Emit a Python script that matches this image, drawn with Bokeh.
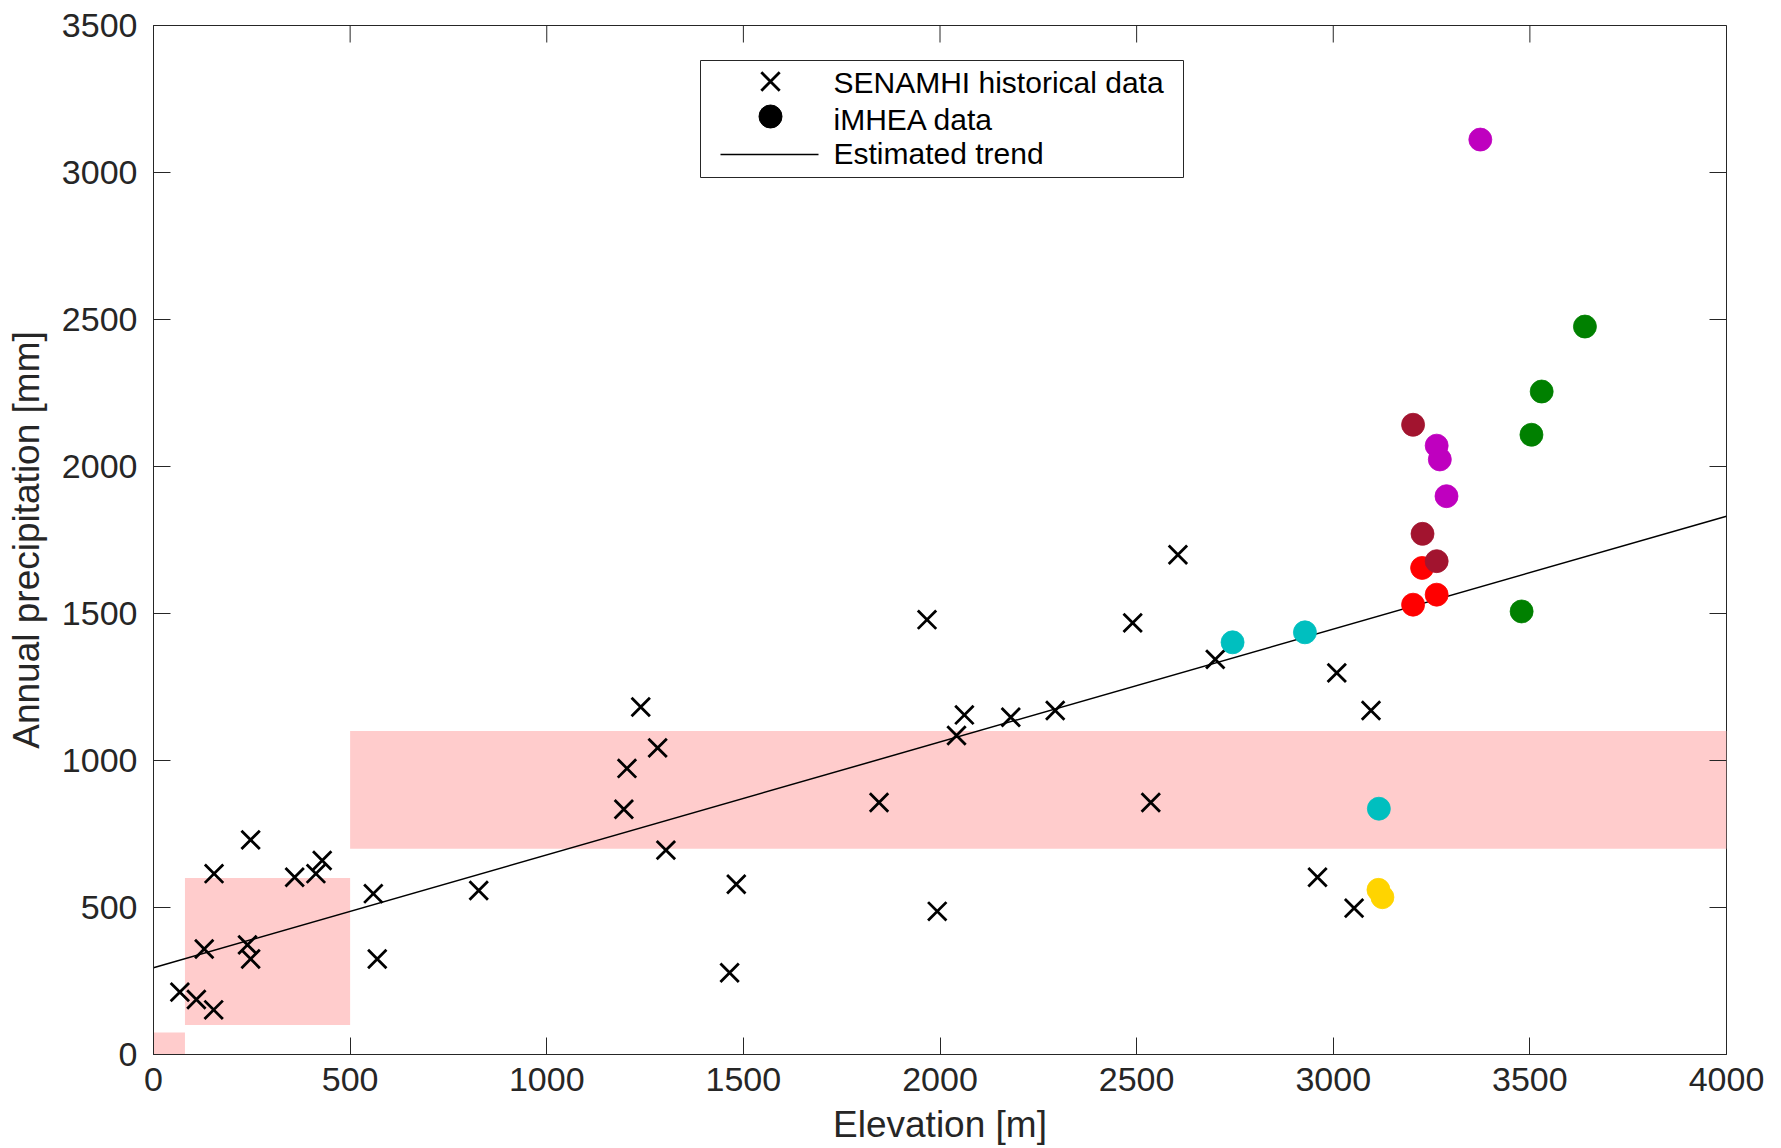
from bokeh.plotting import figure
from bokeh.models import ColumnDataSource, Range1d, FixedTicker
from bokeh.core.properties import value
from bokeh.embed import file_html
from bokeh.resources import INLINE

# ---------------- data ----------------
x_ticks = [0, 500, 1000, 1500, 2000, 2500, 3000, 3500, 4000]
y_ticks = [0, 500, 1000, 1500, 2000, 2500, 3000, 3500]

# SENAMHI historical stations (elevation m, annual precipitation mm)
senamhi_elev = [67, 109, 153, 129, 154, 247, 239, 247, 359, 413, 429, 559, 569,
                827, 1196, 1204, 1239, 1282, 1303, 1465, 1482, 1845, 1967, 1993,
                2042, 2062, 2180, 2293, 2490, 2536, 2605, 2700, 2960, 3009,
                3053, 3096]
senamhi_prec = [212, 187, 152, 359, 615, 730, 373, 325, 603, 615, 660, 547, 325,
                558, 834, 973, 1182, 1043, 695, 278, 579, 857, 1479, 487,
                1085, 1155, 1147, 1170, 1468, 857, 1700, 1344, 603, 1298,
                498, 1170]

# iMHEA stations
imhea_elev = [2744, 2928, 3116, 3115, 3125,
              3203, 3226, 3263,
              3203, 3227, 3263,
              3374, 3263, 3271, 3288,
              3640, 3530, 3504, 3479]
imhea_prec = [1402, 1436, 836, 560, 535,
              1530, 1655, 1564,
              2142, 1771, 1678,
              3112, 2071, 2024, 1899,
              2476, 2255, 2108, 1507]
imhea_group = ["g1", "g1", "g1", "g2", "g2",
               "g3", "g3", "g3",
               "g4", "g4", "g4",
               "g5", "g5", "g5", "g5",
               "g6", "g6", "g6", "g6"]

# estimated trend endpoints
trend_elev = [0, 4000]
trend_prec = [295, 1831]

# shaded bands (left, right, bottom, top)
band_left = [0, 80, 500]
band_right = [80, 500, 4000]
band_bottom = [0, 100, 700]
band_top = [75, 600, 1100]

legend_labels = ["SENAMHI historical data", "iMHEA data", "Estimated trend"]
x_label = "Elevation [m]"
y_label = "Annual precipitation [mm]"

# ---------------- styles ----------------
group_colors = {"g1": "#00BFBF", "g2": "#FFD400", "g3": "#FF0000",
                "g4": "#A2142F", "g5": "#BF00BF", "g6": "#008000"}
TXT = "#262626"
FONT = "Liberation Sans"
FW, FH = 1573, 1029          # plot-frame size in px (for the overlay layer)
TICK = 17

p = figure(width=1781, height=1148, output_backend="svg", toolbar_location=None,
           x_range=Range1d(0, 4000), y_range=Range1d(0, 3500),
           min_border_left=153, min_border_right=55, min_border_top=25,
           min_border_bottom=94)
p.extra_x_ranges = {"px": Range1d(0, FW)}
p.extra_y_ranges = {"px": Range1d(0, FH)}
p.grid.visible = False
p.outline_line_color = TXT
p.outline_line_width = 1
p.background_fill_color = "white"

p.quad(left=band_left, right=band_right, bottom=band_bottom, top=band_top,
       fill_color="#FFCCCC", line_color=None)

p.line(trend_elev, trend_prec, line_color="black", line_width=1.5)

p.scatter(senamhi_elev, senamhi_prec, marker="x", size=26,
          line_color="black", line_width=2.8)

src = ColumnDataSource(dict(x=imhea_elev, y=imhea_prec,
                            c=[group_colors[g] for g in imhea_group]))
p.scatter("x", "y", source=src, marker="circle", size=23,
          fill_color="c", line_color="c", line_width=0.8)

# ticks on the top and right frame edges (box on, ticks inward)
p.segment(x0=x_ticks, x1=x_ticks, y0=[FH] * len(x_ticks),
          y1=[FH - TICK] * len(x_ticks), line_color=TXT, line_width=1,
          y_range_name="px")
p.segment(x0=[FW] * len(y_ticks), x1=[FW - TICK] * len(y_ticks),
          y0=y_ticks, y1=y_ticks, line_color=TXT, line_width=1,
          x_range_name="px")

# ---------------- legend (drawn in frame pixel units) ----------------
LG_L, LG_R, LG_B, LG_T = 547, 1030, 877, 994
row_y = [973, 938, 900]
sym_x = 617
line_x0, line_x1 = 567, 665
text_x = 680

p.quad(left=[LG_L], right=[LG_R], bottom=[LG_B], top=[LG_T],
       fill_color="white", line_color=TXT, line_width=1,
       x_range_name="px", y_range_name="px")
p.scatter([sym_x], [row_y[0]], marker="x", size=26, line_color="black",
          line_width=2.8, x_range_name="px", y_range_name="px")
p.scatter([sym_x], [row_y[1]], marker="circle", size=23, fill_color="black",
          line_color="black", x_range_name="px", y_range_name="px")
p.line([line_x0, line_x1], [row_y[2], row_y[2]], line_color="black",
       line_width=1.5, x_range_name="px", y_range_name="px")
p.text(x=[text_x] * 3, y=[row_y[0] - 1, row_y[1] - 3, row_y[2] + 1],
       text=legend_labels, text_font=value(FONT), text_font_size="30px",
       text_color="black", text_baseline="middle", text_align="left",
       x_range_name="px", y_range_name="px")

# ---------------- axes ----------------
for ax in (p.xaxis[0], p.yaxis[0]):
    ax.axis_line_color = TXT
    ax.axis_line_width = 1
    ax.major_tick_in = TICK
    ax.major_tick_out = 0
    ax.major_tick_line_color = TXT
    ax.major_tick_line_width = 1
    ax.minor_tick_line_color = None
    ax.major_label_text_font = FONT
    ax.major_label_text_font_size = "34px"
    ax.major_label_text_color = TXT
    ax.axis_label_text_font = FONT
    ax.axis_label_text_font_size = "37px"
    ax.axis_label_text_font_style = "normal"
    ax.axis_label_text_color = TXT

p.xaxis.ticker = FixedTicker(ticks=x_ticks)
p.yaxis.ticker = FixedTicker(ticks=y_ticks)
p.xaxis.axis_label = x_label
p.yaxis.axis_label = y_label
p.xaxis.major_label_standoff = 13
p.xaxis.axis_label_standoff = 10
p.yaxis.major_label_standoff = 16
p.yaxis.axis_label_standoff = 12

open("out.html", "w").write(file_html(p, INLINE))
